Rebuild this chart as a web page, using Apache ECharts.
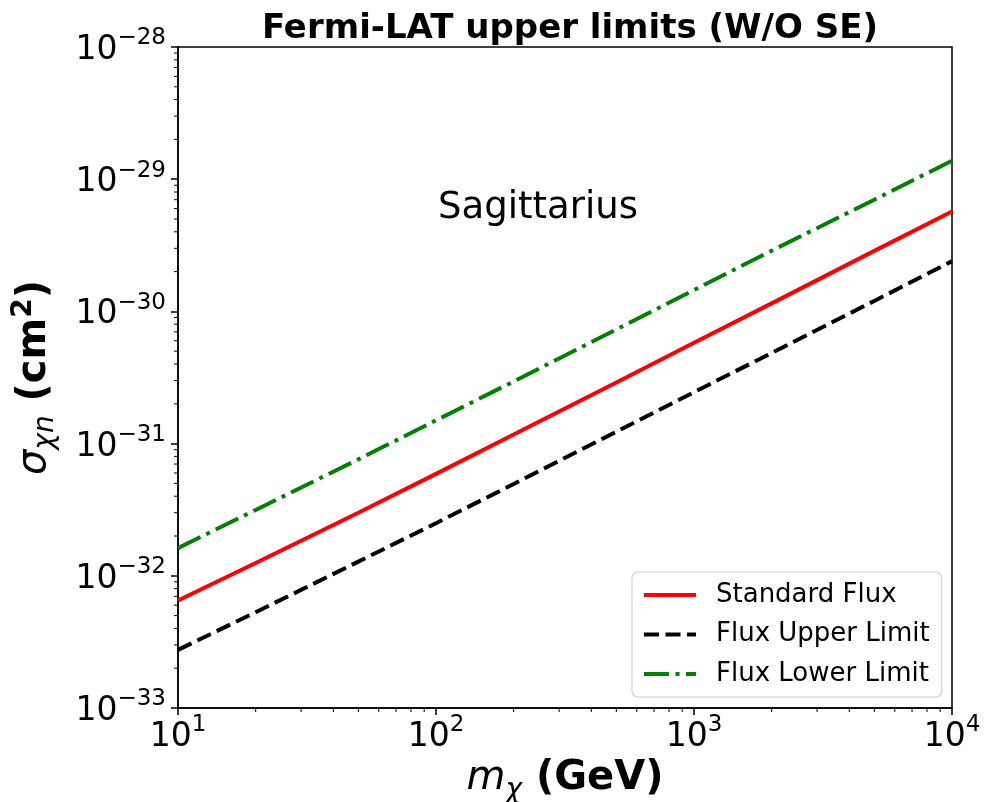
<!DOCTYPE html>
<html><head><meta charset="utf-8">
<script src="https://cdn.jsdelivr.net/npm/echarts@6/dist/echarts.min.js"></script>
<style>html,body{margin:0;padding:0;background:#fff}#c{width:984px;height:802px}</style>
</head><body><div id="c"></div>
<script>
const massGeV = [10, 20, 50, 100, 200, 500, 1000, 2000, 5000, 10000];
const standardFlux = [6.5e-33, 1.25e-32, 3.0e-32, 5.9e-32, 1.17e-31, 2.9e-31, 5.8e-31, 1.15e-30, 2.87e-30, 5.7e-30];
const fluxUpper = [2.75e-33, 5.3e-33, 1.28e-32, 2.5e-32, 4.95e-32, 1.23e-31, 2.45e-31, 4.85e-31, 1.2e-30, 2.4e-30];
const fluxLower = [1.62e-32, 3.15e-32, 7.6e-32, 1.5e-31, 2.95e-31, 7.3e-31, 1.45e-30, 2.88e-30, 7.0e-30, 1.38e-29];
const xMajorTicks = [10, 100, 1000, 10000];
const yMajorTicks = [1e-33, 1e-32, 1e-31, 1e-30, 1e-29, 1e-28];
const xMinorTicks = [20,30,40,50,60,70,80,90,200,300,400,500,600,700,800,900,2000,3000,4000,5000,6000,7000,8000,9000];
const minorMult = [2,3,4,5,6,7,8,9];
const yDecades = [-33, -32, -31, -30, -29];

const L = Math.log10;
const yMinorTicks = [];
yDecades.forEach(e => minorMult.forEach(m => yMinorTicks.push(m * Math.pow(10, e))));
const xMinE = L(xMajorTicks[0]), xMaxE = L(xMajorTicks[xMajorTicks.length - 1]);
const yMinE = L(yMajorTicks[0]), yMaxE = L(yMajorTicks[yMajorTicks.length - 1]);

const FONT = 'DejaVu Sans';
const chart = echarts.init(document.getElementById('c'));
function pair(xs, ys){ return xs.map((x,i)=>[L(x), L(ys[i])]); }
function expLabel(v){
  const e = Math.round(v);
  const s = e < 0 ? '\u2212' + Math.abs(e) : String(e);
  return '{b|10}{s|' + s + '}';
}
const labelRich = {
  b: {fontFamily: FONT, fontSize: 33, color: '#000', lineHeight: 40, verticalAlign: 'bottom'},
  s: {fontFamily: FONT, fontSize: 23, color: '#000', lineHeight: 26, verticalAlign: 'top'}
};
chart.setOption({
  animation: false,
  backgroundColor: '#fff',
  title: {
    text: 'Fermi-LAT upper limits (W/O SE)',
    left: 565, top: 7, textAlign: 'center',
    textStyle: {fontFamily: FONT, fontSize: 34, fontWeight: 'bold', color: '#000'}
  },
  grid: {left: 178, right: 32, top: 47, bottom: 94, outerBoundsMode: 'none', containLabel: false,
         show: true, borderColor: '#000', borderWidth: 1.5, backgroundColor: 'transparent'},
  xAxis: {
    type: 'value', min: xMinE, max: xMaxE, interval: 1,
    axisLine: {show: true, onZero: false, lineStyle: {color: '#000', width: 1.5}},
    axisTick: {show: true, inside: false, length: 7, lineStyle: {color: '#000', width: 1.5}},
    splitLine: {show: false},
    axisLabel: {margin: 6, formatter: expLabel, rich: labelRich},
    name: '{i|m}{sub|\u03c7}{b| (GeV)}',
    nameLocation: 'middle', nameGap: 43,
    nameTextStyle: {rich: {
      i: {fontFamily: FONT, fontSize: 40, fontStyle: 'italic', color: '#000', lineHeight: 46, verticalAlign: 'top'},
      sub: {fontFamily: FONT, fontSize: 28, fontStyle: 'italic', color: '#000', lineHeight: 30, verticalAlign: 'bottom'},
      b: {fontFamily: FONT, fontSize: 40, fontWeight: 'bold', color: '#000', lineHeight: 46, verticalAlign: 'top'}
    }}
  },
  yAxis: {
    type: 'value', min: yMinE, max: yMaxE, interval: 1,
    axisLine: {show: true, onZero: false, lineStyle: {color: '#000', width: 1.5}},
    axisTick: {show: true, inside: false, length: 7, lineStyle: {color: '#000', width: 1.5}},
    splitLine: {show: false},
    axisLabel: {margin: 12, formatter: expLabel, rich: labelRich},
    name: '{i|\u03c3}{sub|\u03c7n}{b| (cm}{sup|2}{b|)}',
    nameLocation: 'middle', nameGap: 118, nameRotate: 90,
    nameTextStyle: {rich: {
      i: {fontFamily: FONT, fontSize: 40, fontStyle: 'italic', color: '#000', lineHeight: 50, verticalAlign: 'middle'},
      sub: {fontFamily: FONT, fontSize: 28, fontStyle: 'italic', color: '#000', lineHeight: 34, verticalAlign: 'bottom'},
      b: {fontFamily: FONT, fontSize: 40, fontWeight: 'bold', color: '#000', lineHeight: 50, verticalAlign: 'middle'},
      sup: {fontFamily: FONT, fontSize: 28, fontWeight: 'bold', color: '#000', lineHeight: 24, verticalAlign: 'top'}
    }}
  },
  legend: {
    data: ['Standard Flux', 'Flux Upper Limit', 'Flux Lower Limit'],
    orient: 'vertical', left: 632, top: 572,
    padding: [10, 12, 10, 10],
    backgroundColor: '#fff', borderColor: '#d0d0d0', borderWidth: 1.2, borderRadius: 6,
    itemWidth: 52, itemHeight: 14, itemGap: 13.5,
    itemStyle: {color: 'rgba(0,0,0,0)', borderWidth: 0, opacity: 0},
    lineStyle: {width: 4},
    textStyle: {fontFamily: FONT, fontSize: 26, color: '#000', padding: [0,0,0,15]}
  },
  graphic: [{
    type: 'text', x: 538, y: 208,
    style: {text: 'Sagittarius', font: '37px "DejaVu Sans"', fill: '#000', align: 'center', verticalAlign: 'middle'}
  }],
  series: [
    {name: 'Standard Flux', type: 'line', data: pair(massGeV, standardFlux), showSymbol: false, symbol: 'none',
     lineStyle: {color: '#ff0000', width: 4}, itemStyle: {color: '#ff0000'}},
    {name: 'Flux Upper Limit', type: 'line', data: pair(massGeV, fluxUpper), showSymbol: false, symbol: 'none',
     lineStyle: {color: '#000', width: 4, type: [15, 6.5]}, itemStyle: {color: '#000'}},
    {name: 'Flux Lower Limit', type: 'line', data: pair(massGeV, fluxLower), showSymbol: false, symbol: 'none',
     lineStyle: {color: '#008000', width: 4, type: [25, 6.5, 4, 6.5]}, itemStyle: {color: '#008000'}},
    {name: 'xminor', type: 'custom', silent: true, clip: false,
     data: xMinorTicks.map(v => [L(v), yMinE]),
     renderItem: function(params, api){
       const p = api.coord([api.value(0), api.value(1)]);
       return {type: 'line', shape: {x1: p[0], y1: p[1], x2: p[0], y2: p[1] + 4}, style: {stroke: '#000', lineWidth: 1}};
     }},
    {name: 'yminor', type: 'custom', silent: true, clip: false,
     data: yMinorTicks.map(v => [xMinE, L(v)]),
     renderItem: function(params, api){
       const p = api.coord([api.value(0), api.value(1)]);
       return {type: 'line', shape: {x1: p[0], y1: p[1], x2: p[0] - 4, y2: p[1]}, style: {stroke: '#000', lineWidth: 1}};
     }}
  ]
});
</script></body></html>
